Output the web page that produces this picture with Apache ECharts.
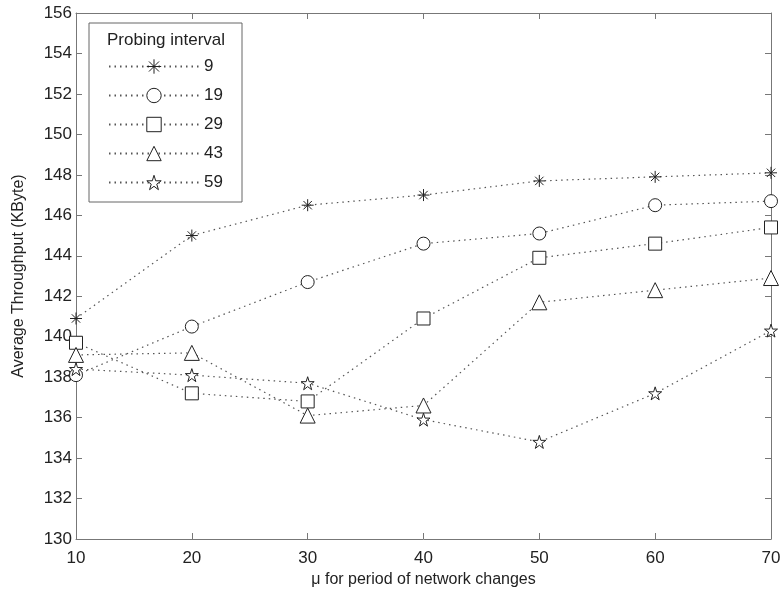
<!DOCTYPE html>
<html>
<head>
<meta charset="utf-8">
<script src="https://cdn.jsdelivr.net/npm/echarts@6/dist/echarts.min.js"></script>
<style>
html, body { margin: 0; padding: 0; background: #fff; }
#main { width: 782px; height: 590px; }
</style>
</head>
<body>
<div id="main"></div>
<script>
// mu values (x axis)
var muValues = [10, 20, 30, 40, 50, 60, 70];
var intervalNames = ['9', '19', '29', '43', '59'];
// average throughput per probing interval
var thr9  = [140.9, 145.0, 146.5, 147.0, 147.7, 147.9, 148.1];
var thr19 = [138.1, 140.5, 142.7, 144.6, 145.1, 146.5, 146.7];
var thr29 = [139.7, 137.2, 136.8, 140.9, 143.9, 144.6, 145.4];
var thr43 = [139.1, 139.2, 136.1, 136.6, 141.7, 142.3, 142.9];
var thr59 = [138.4, 138.1, 137.7, 135.9, 134.8, 137.2, 140.3];

var asteriskPath = 'path://M50,0L50,100M0,50L100,50M15,15L85,85M15,85L85,15';
var starPath = 'path://M50,0L61.2,34.5L97.6,34.5L68.2,55.9L79.4,90.5L50,69.1L20.6,90.5L31.8,55.9L2.4,34.5L38.8,34.5Z';

var chartDom = document.getElementById('main');
var myChart = echarts.init(chartDom);

var fontFam = 'Liberation Sans, Arial, sans-serif';
var axisGray = '#777';

function makeSeries(name, data, symbol, size){
    return {
        name: name,
        type: 'line',
        data: data.map(function(v, i){ return [muValues[i], v]; }),
        symbol: symbol,
        symbolSize: size,
        showAllSymbol: true,
        lineStyle: { color: '#555', width: 1.2, type: [1.5, 4] },
        itemStyle: { color: '#fff', borderColor: '#222', borderWidth: 1 },
        emphasis: { disabled: true },
        z: 3
    };
}

var option = {
    animation: false,
    backgroundColor: '#fff',
    textStyle: { fontFamily: fontFam },
    grid: { left: 76, right: 11, top: 13, bottom: 51, containLabel: false, outerBoundsMode: 'none' },
    xAxis: [{
        type: 'value',
        min: 10, max: 70, interval: 10,
        name: '\u03bc for period of network changes',
        nameLocation: 'middle',
        nameGap: 33,
        nameTextStyle: { fontSize: 16, color: '#222' },
        axisLine: { lineStyle: { color: axisGray } },
        axisTick: { inside: true, length: 6, lineStyle: { color: axisGray } },
        axisLabel: { fontSize: 17, color: '#222', margin: 11 },
        splitLine: { show: false }
    }, {
        type: 'value', position: 'top',
        min: 10, max: 70, interval: 10,
        axisLine: { show: true, lineStyle: { color: axisGray } },
        axisTick: { inside: true, length: 6, lineStyle: { color: axisGray } },
        axisLabel: { show: false },
        splitLine: { show: false }
    }],
    yAxis: [{
        type: 'value',
        min: 130, max: 156, interval: 2,
        name: 'Average Throughput (KByte)',
        nameLocation: 'middle',
        nameGap: 49,
        nameTextStyle: { fontSize: 16, color: '#222' },
        axisLine: { show: true, lineStyle: { color: axisGray } },
        axisTick: { show: true, inside: true, length: 6, lineStyle: { color: axisGray } },
        axisLabel: { fontSize: 17, color: '#222', margin: 4 },
        splitLine: { show: false }
    }, {
        type: 'value', position: 'right',
        min: 130, max: 156, interval: 2,
        axisLine: { show: true, lineStyle: { color: axisGray } },
        axisTick: { show: true, inside: true, length: 6, lineStyle: { color: axisGray } },
        axisLabel: { show: false },
        splitLine: { show: false }
    }],
    legend: {
        orient: 'vertical',
        left: 103, top: 53,
        itemWidth: 90, itemHeight: 18, itemGap: 12,
        data: intervalNames,
        itemStyle: { borderWidth: 1 },
        textStyle: { fontSize: 17, color: '#222' },
        selectedMode: false,
        z: 20
    },
    graphic: [{
        type: 'rect',
        shape: { x: 89, y: 23, width: 153, height: 179 },
        style: { fill: '#fff', stroke: '#666', lineWidth: 1 },
        z: 5
    }, {
        type: 'text',
        x: 166, y: 40,
        style: { text: 'Probing interval', fontSize: 17, fill: '#222', fontFamily: fontFam,
                 textAlign: 'center', textVerticalAlign: 'middle' },
        z: 21
    }],
    series: [
        makeSeries(intervalNames[0], thr9, asteriskPath, 12),
        makeSeries(intervalNames[1], thr19, 'circle', 13),
        makeSeries(intervalNames[2], thr29, 'rect', 13),
        makeSeries(intervalNames[3], thr43, 'triangle', 15),
        makeSeries(intervalNames[4], thr59, starPath, 13)
    ]
};

myChart.setOption(option);
</script>
</body>
</html>
